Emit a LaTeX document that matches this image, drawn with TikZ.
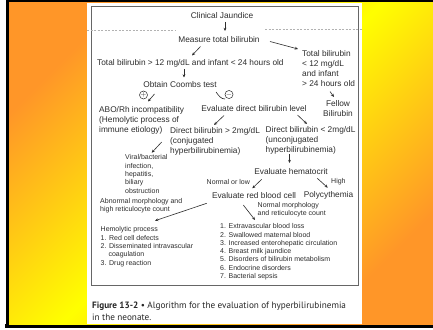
\documentclass[tikz,border=0pt]{standalone}
\usepackage{fontspec}
\setmainfont{Liberation Sans}
\newfontfamily\capfont{PT Sans}
\usetikzlibrary{arrows.meta}
\definecolor{myorange}{RGB}{255,150,40}
\definecolor{myyellow}{RGB}{255,255,0}
\definecolor{ink}{RGB}{45,45,45}
\begin{document}
\begin{tikzpicture}[x=1pt,y=-1pt,
  txt/.style={inner sep=0pt, text=ink, font=\fontsize{8.3}{10}\selectfont},
  sml/.style={inner sep=0pt, text=ink, font=\fontsize{7}{8.3}\selectfont},
  arr/.style={draw=ink, line width=0.6pt, -{Stealth[length=3.2pt,width=2.8pt]}},
  sign/.style={circle, draw=ink, line width=0.5pt, minimum size=8pt, inner sep=0pt, text=ink, font=\fontsize{7}{8}\selectfont},
  foldline/.style={draw=black!30, line width=0.4pt, dashed, dash pattern=on 2pt off 1.5pt}
]
\useasboundingbox (0,0) rectangle (433,329);
% frame and background
\fill[white] (0,0) rectangle (433,329);
\fill[black] (7,0) rectangle (433,3);
\fill[black] (6,0) rectangle (9,327);
\fill[black] (5,324) rectangle (433,328);
\shade[top color=myorange, bottom color=myorange, middle color=myyellow, shading angle=45] (9,3) rectangle (433,324);
\fill[white] (87.3,3) rectangle (361.7,324);
\draw[black!60, line width=0.8pt] (91,6.5) rectangle (358.5,285.5);
\draw[foldline] (87.3,30.3) -- (175,30.3);
\draw[foldline] (265,29.7) -- (361.7,29.7);

% texts
\node[txt] (jaundice) at (222,15.5) {Clinical Jaundice};
\node[txt] (measure) at (219,40) {Measure total bilirubin};
\node[txt, anchor=west] (tbgt) at (97,63.5) {Total bilirubin > 12 mg/dL and infant < 24 hours old};
\node[txt, anchor=west, align=left] (tblt) at (302,68.5) {Total bilirubin\\< 12 mg/dL\\and infant\\> 24 hours old};
\node[txt] (coombs) at (180,85) {Obtain Coombs test};
\node[txt, align=center] (fellow) at (338,109) {Fellow\\Bilirubin};
\node[sign] (plus) at (143.5,95) {$+$};
\node[sign] (minus) at (229,94.5) {$-$};
\node[txt, anchor=west, align=left] (abo) at (99,120) {ABO/Rh incompatibility\\(Hemolytic process of\\immune etiology)};
\node[txt] (evaldir) at (254,108.5) {Evaluate direct bilirubin level};
\node[txt, anchor=west, align=left] (dgt) at (170,141) {Direct bilirubin > 2mg/dL\\(conjugated\\hyperbilirubinemia)};
\node[txt, anchor=west, align=left] (dlt) at (265.5,140) {Direct bilirubin < 2mg/dL\\(unconjugated\\hyperbilirubinemia)};
\node[sml, anchor=west, align=left] (viral) at (125,174) {Viral/bacterial\\infection,\\hepatitis,\\biliary\\obstruction};
\node[txt] (hemat) at (291,171.5) {Evaluate hematocrit};
\node[sml, anchor=west] (normlow) at (206.5,182) {Normal or low};
\node[sml, anchor=west] (high) at (331,181.5) {High};
\node[txt] (evalrbc) at (254,196) {Evaluate red blood cell};
\node[txt] (poly) at (328.5,195.5) {Polycythemia};
\node[sml, anchor=west, align=left] (normmorph) at (257.5,210) {Normal morphology\\and reticulocyte count};
\node[sml, anchor=west, align=left] (abnorm) at (100,206) {Abnormal morphology and\\high reticulocyte count};
\node[sml, anchor=west, align=left] (hemol) at (100.5,246.7) {Hemolytic process\\1. Red cell defects\\2. Disseminated intravascular\\\hspace*{7.8pt}coagulation\\3. Drug reaction};
\node[sml, anchor=west, align=left] (causes) at (220,251.8) {1. Extravascular blood loss\\2. Swallowed maternal blood\\3. Increased enterohepatic circulation\\4. Breast milk jaundice\\5. Disorders of bilirubin metabolism\\6. Endocrine disorders\\7. Bacterial sepsis};
\node[inner sep=0pt, anchor=west, align=left, text=black!85, font=\capfont\fontsize{9.2}{11.5}\selectfont] (caption) at (92,311.3) {\textbf{Figure 13-2} • Algorithm for the evaluation of hyperbilirubinemia\\in the neonate.};

% arrow end points
\coordinate (a1s) at (225,22);    \coordinate (a1e) at (225,31);
\coordinate (a2s) at (200.5,46.5);\coordinate (a2e) at (192,55.5);
\coordinate (a3s) at (270,41.5);  \coordinate (a3e) at (298,49);
\coordinate (a4s) at (184,69);    \coordinate (a4e) at (184,77.5);
\coordinate (a5s) at (154.5,94);  \coordinate (a5e) at (148,101.5);
\coordinate (a6s) at (216,92);    \coordinate (a6e) at (225,99);
\coordinate (a7s) at (330,91.5);  \coordinate (a7e) at (334,97);
\coordinate (a8s) at (224,115.5); \coordinate (a8e) at (214,125);
\coordinate (a9s) at (297.5,115); \coordinate (a9e) at (307,124);
\coordinate (a10s) at (161.7,142);\coordinate (a10e) at (151.7,152.7);
\coordinate (a11s) at (289.5,154);\coordinate (a11e) at (289.5,163);
\coordinate (a12s) at (261.7,179.3);\coordinate (a12e) at (252.3,188.3);
\coordinate (a13s) at (317.3,178.3);\coordinate (a13e) at (327.7,187.7);
\coordinate (a14s) at (243.3,205);\coordinate (a14e) at (255,220);
\coordinate (a15s) at (206.7,203.3);\coordinate (a15e) at (155,220.7);

\draw[arr] (a1s) -- (a1e);
\draw[arr] (a2s) -- (a2e);
\draw[arr] (a3s) -- (a3e);
\draw[arr] (a4s) -- (a4e);
\draw[arr] (a5s) -- (a5e);
\draw[draw=ink, line width=0.6pt] (a6s) .. controls (219,96) and (221,99) .. (a6e);
\draw[arr] (a7s) -- (a7e);
\draw[arr] (a8s) -- (a8e);
\draw[arr] (a9s) -- (a9e);
\draw[arr] (a10s) -- (a10e);
\draw[arr] (a11s) -- (a11e);
\draw[arr] (a12s) -- (a12e);
\draw[arr] (a13s) -- (a13e);
\draw[arr] (a14s) -- (a14e);
\draw[arr] (a15s) -- (a15e);
\end{tikzpicture}
\end{document}
